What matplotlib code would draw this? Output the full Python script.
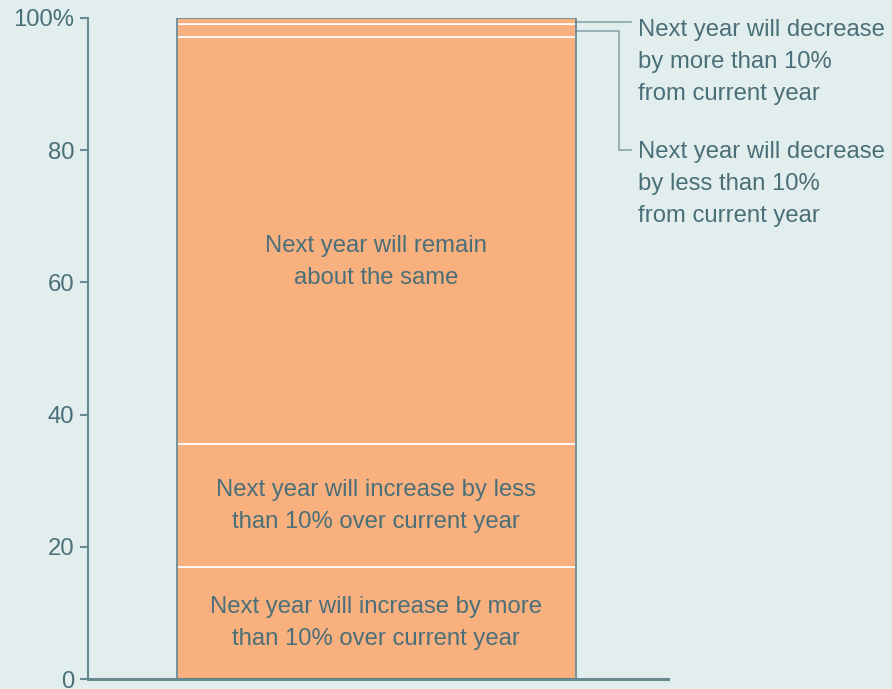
import matplotlib.pyplot as plt
import numpy as np

plt.rcParams['font.family'] = ['Liberation Sans', 'DejaVu Sans']

# shares of respondents, bottom to top (%)
segments = ['Next year will increase by more\nthan 10% over current year',
            'Next year will increase by less\nthan 10% over current year',
            'Next year will remain\nabout the same',
            'Next year will decrease\nby less than 10%\nfrom current year',
            'Next year will decrease\nby more than 10%\nfrom current year']
values = [16.9, 18.6, 61.7, 1.9, 0.9]
yticks = [0, 20, 40, 60, 80, 100]
yticklabels = ['0', '20', '40', '60', '80', '100%']

bg = '#e2eeee'
bar_col = '#f9b07f'
txt_col = '#4a6f78'
line_col = '#6a8a92'

fig = plt.figure(figsize=(8.92, 6.89), dpi=100)
fig.patch.set_facecolor(bg)
ax = fig.add_axes([88 / 892, 10 / 689, 580 / 892, 661 / 689])
ax.set_facecolor(bg)

x0 = 0.497
w = 0.688
bottoms = np.concatenate([[0], np.cumsum(values)[:-1]])
ax.bar(x0, values, width=w, bottom=bottoms, color=bar_col,
       edgecolor='white', linewidth=1.2, zorder=2)
ax.bar(x0, sum(values), width=w, fill=False, edgecolor='#5d8089',
       linewidth=1.2, zorder=3)

fs = 17.2
ls = 1.6
# labels inside the bar
ax.text(x0, bottoms[0] + values[0] / 2, segments[0], ha='center', va='center',
        color=txt_col, fontsize=fs, linespacing=ls, zorder=4)
ax.text(x0, bottoms[1] + values[1] / 2, segments[1], ha='center', va='center',
        color=txt_col, fontsize=fs, linespacing=ls, zorder=4)
ax.text(x0, bottoms[2] + values[2] / 2 - 3.3, segments[2], ha='center', va='center',
        color=txt_col, fontsize=fs, linespacing=ls, zorder=4)

# leader lines for the two small top segments
right = x0 + w / 2
tx = (631 - 88) / 580
lx = (619 - 88) / 580
y_top = 99.4
y_mid = 98.1
ax.plot([right, tx], [y_top, y_top], color='#8aa4aa', lw=1.2, clip_on=False)
ax.plot([right, lx, lx, tx], [y_mid, y_mid, 80.0, 80.0], color='#8aa4aa',
        lw=1.2, clip_on=False)
ax.text((638 - 88) / 580, 99.9, segments[4], ha='left', va='top',
        color=txt_col, fontsize=fs, linespacing=ls, clip_on=False)
ax.text((638 - 88) / 580, 81.4, segments[3], ha='left', va='top',
        color=txt_col, fontsize=fs, linespacing=ls, clip_on=False)

ax.set_xlim(0, 1)
ax.set_ylim(0, 100)
ax.set_xticks([])
ax.set_yticks(yticks)
ax.set_yticklabels(yticklabels)
ax.tick_params(axis='y', colors=line_col, labelcolor=txt_col, labelsize=fs,
               length=6, width=1.5, pad=4)
for s in ['top', 'right']:
    ax.spines[s].set_visible(False)
ax.spines['left'].set_color(line_col)
ax.spines['left'].set_linewidth(1.5)
ax.spines['bottom'].set_color(line_col)
ax.spines['bottom'].set_linewidth(2.2)

fig.savefig('out.png', dpi=100, facecolor=bg)
